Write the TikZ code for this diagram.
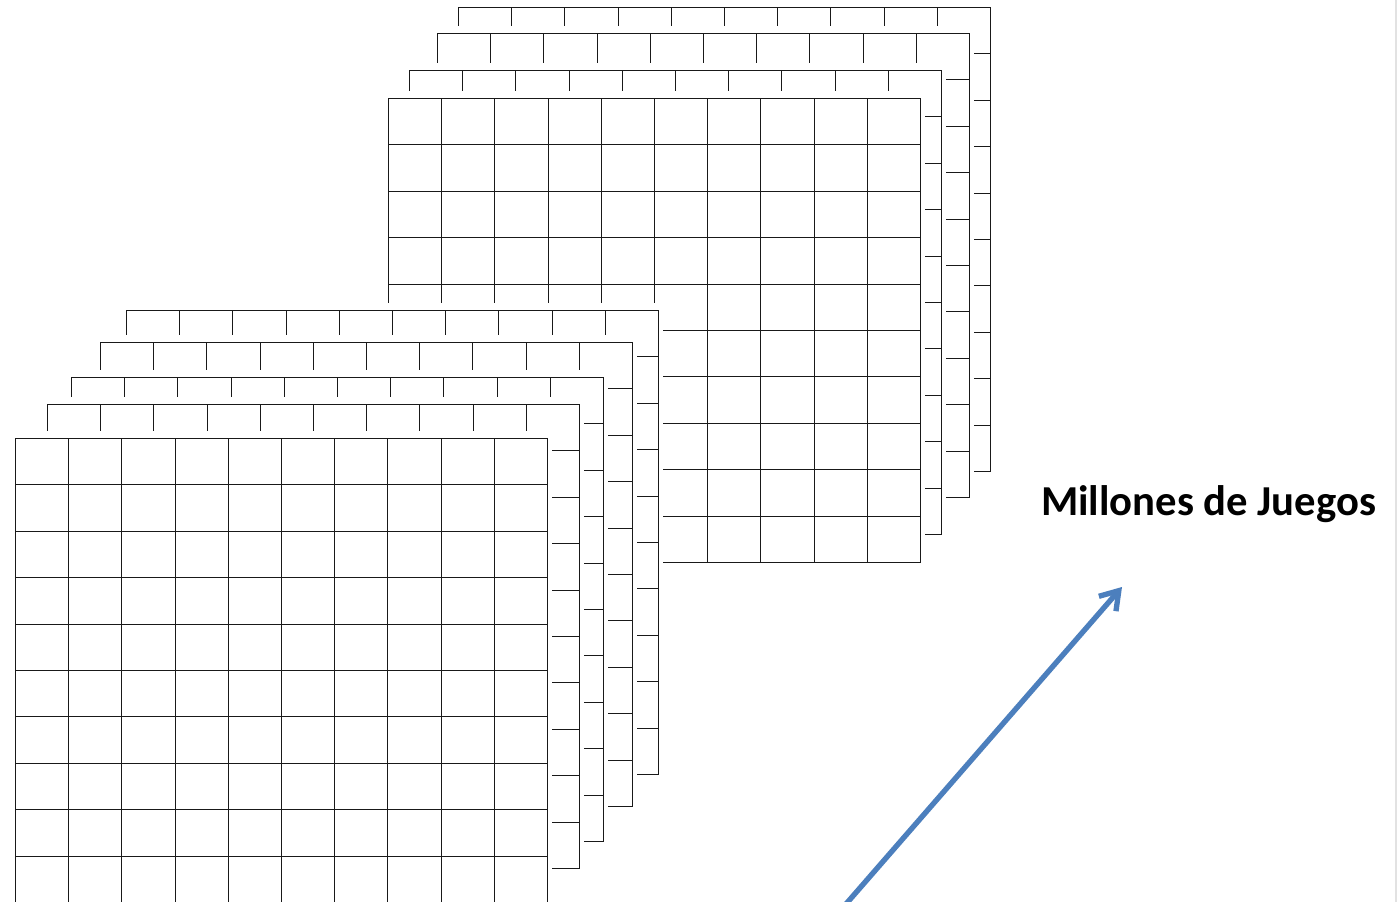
\documentclass[tikz,border=0pt]{standalone}
\usepackage{fontspec}
\newfontfamily\carl{Carlito}
\usetikzlibrary{arrows.meta}
\definecolor{arrowblue}{RGB}{76,127,189}
\definecolor{edgegray}{RGB}{226,226,226}
\newcommand{\gridlayer}[2]{%
  \fill[white] (#1-5,#2-7) rectangle (#1+537,#2+471);
  \foreach \o in {0,53,106,160,213,266,319,372,426,479,532}{
    \draw[gridline] (#1+\o+0.5,#2+0.5) -- (#1+\o+0.5,#2+464.5);
  }
  \foreach \o in {0,46,93,139,186,232,278,325,371,418,464}{
    \draw[gridline] (#1+0.5,#2+\o+0.5) -- (#1+532.5,#2+\o+0.5);
  }%
}
\tikzset{
  gridline/.style={line width=0.75pt, draw=black!90, line cap=rect},
  bigarrow/.style={line width=4pt, draw=arrowblue, -{Straight Barb[length=13pt,width=17pt]}},
  titletext/.style={font=\carl\bfseries\fontsize{32}{38}\selectfont, text=black, inner sep=0pt}
}
\begin{document}
\begin{tikzpicture}[x=0.75pt,y=-0.75pt]
\useasboundingbox (0,0) rectangle (1397,902);
\fill[white] (0,0) rectangle (1397,902);
\fill[edgegray] (1395,0) rectangle (1397,902);
% back stack
\gridlayer{458}{7}
\gridlayer{437}{33}
\gridlayer{409}{70}
\gridlayer{388}{98}
% front stack
\gridlayer{126}{310}
\gridlayer{100}{342}
\gridlayer{71}{377}
\gridlayer{47}{404}
\gridlayer{15}{438}
% arrow and label
\coordinate (arrS) at (846,904);
\coordinate (arrE) at (1122,587);
\draw[bigarrow] (arrS) -- (arrE);
\node[titletext, anchor=base] (title) at (1208.5,515.7) {Millones de Juegos};
\end{tikzpicture}
\end{document}
